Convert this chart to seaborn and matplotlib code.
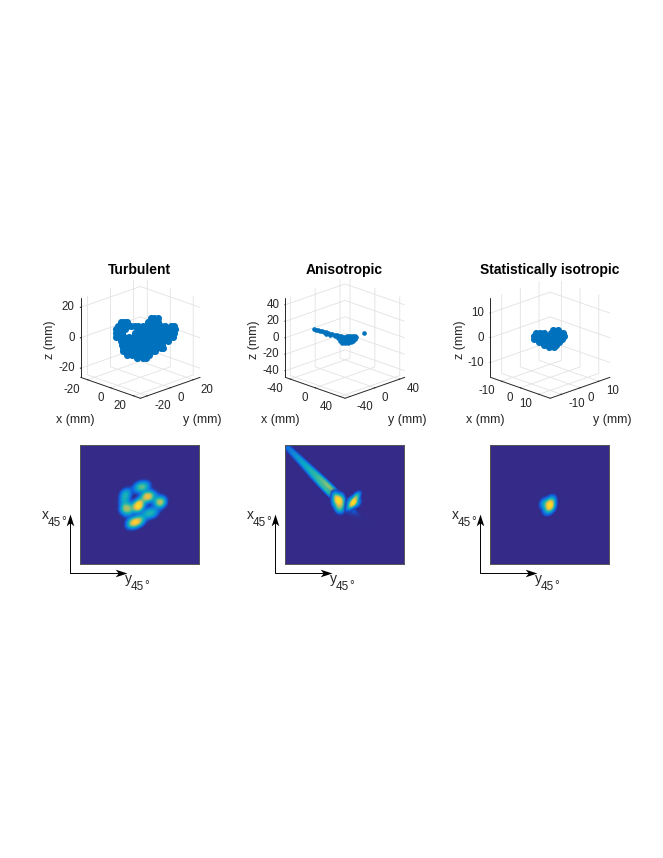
import numpy as np
import seaborn as sns
import matplotlib.pyplot as plt
from matplotlib.colors import LinearSegmentedColormap, to_rgb
from mpl_toolkits.mplot3d import Axes3D, proj3d

titles = ['Turbulent', 'Anisotropic', 'Statistically isotropic']
limits = [26, 48, 16]
ticks_xy = [[-20, 0, 20], [-40, 0, 40], [-10, 0, 10]]
ticks_z = [[-20, 0, 20], [-40, -20, 0, 20, 40], [-10, 0, 10]]

# nuvem 3D, valores (mm)
turb_x = [4.5, 6, 7.5,
          -8.5, -7, -5.8, 3.5, 5.5, 7.5,
          -9.8, -8, -6, -4, -2.5, -1, 1, 3, 5, 7, 9, 10.5, 13.3, 14.5,
          -10.5, -9, -7.6, -6.6, -1.2, 0, 2, 4, 5.6, 8.6, 10, 12, 14, 15,
          -10.5, -9, -7.8, -2.2, -1, 1, 3, 5, 7, 9, 11, 13, 14.8,
          -10.5, -9, -7, -5, -3, -1, 1, 3, 5, 7, 9, 11, 13, 14,
          -8.6, -6, -4, -2, 0, 2, 4, 6, 8, 10, 12,
          -8, -5.5, -3.5, -1.5, 0.5, 2.5, 4.5, 6, 8, 9.6,
          -7.6, -5, -3, -1, 1, 3, 5, 7, 9, 10,
          -7.4, -5, -3, -1, 1, 3, 5, 6.5,
          -6, -3.5, -1.5, 0.5, 2.5, 3.8,
          -1.5, 1, 2.6]
turb_z = [13, 13, 13,
          10.5, 10.5, 10.5, 10.5, 10.5, 10.5,
          8, 8, 8, 8, 8, 8, 8, 8, 8, 8, 8, 8, 8, 8,
          5.5, 5.5, 5.5, 5.5, 5.5, 5.5, 5.5, 5.5, 5.5, 5.5, 5.5, 5.5, 5.5, 5.5,
          3, 3, 3, 3, 3, 3, 3, 3, 3, 3, 3, 3, 3,
          0.5, 0.5, 0.5, 0.5, 0.5, 0.5, 0.5, 0.5, 0.5, 0.5, 0.5, 0.5, 0.5, 0.5,
          -2, -2, -2, -2, -2, -2, -2, -2, -2, -2, -2,
          -4.5, -4.5, -4.5, -4.5, -4.5, -4.5, -4.5, -4.5, -4.5, -4.5,
          -7, -7, -7, -7, -7, -7, -7, -7, -7, -7,
          -9, -9, -9, -9, -9, -9, -9, -9,
          -11.5, -11.5, -11.5, -11.5, -11.5, -11.5,
          -13, -13, -13]
aniso_x = [-24.7, -23.1, -21.5, -19.8, -18.2, -16.6, -14.9, -13.3, -11.7, -10.1, -8.4, -6.8,
           -14.9, -11.7, -8.4, -5.2, -3.5, -1.9, -0.3, 1.4, 3, 4.6, 6.3, 7.9, 9, 8.4, 6.8,
           4.6, 2.4, -0.3, -2.4, -4.1, -5.7, -3.5, -1.4, 0.8, 3, 5.2, 6.8, -1.4, 0.8, 3, 14.9]
aniso_z = [10.2, 9.8, 9.3, 8.5, 8.1, 7.3, 6.5, 5.7, 4.9, 4.1, 3.3, 2.8,
           4.9, 3.3, 1.6, 2, 1.6, 1.2, 1.2, 1.6, 1.6, 2, 2, 1.6, 0.4, -1.6, -3.3,
           -4.9, -6.5, -6.9, -6.1, -3.7, -0.8, -1.2, -2, -2, -1.6, -0.8, -0.4, -4.5, -4.5, -4.1, 6.1]
iso_x = [0.7, 2,
         -3.9, -2.8, -1.6, 0.2, 1.4, 2.4, 3.3,
         -4.4, -3.2, -2, -0.8, 0.4, 1.6, 2.8, 3.6,
         -4.3, -3.1, -1.9, -0.7, 0.5, 1.7, 2.9, 3.1,
         -3, -1.8, -0.6, 0.6, 1.8, 2.4,
         -1.6, -0.4, 0.8, 1.5,
         -0.3, 0.9]
iso_z = [3.1, 3.1,
         2, 2, 2, 2, 2, 2, 2,
         0.7, 0.7, 0.7, 0.7, 0.7, 0.7, 0.7, 0.7,
         -0.4, -0.4, -0.4, -0.4, -0.4, -0.4, -0.4, -0.4,
         -1.8, -1.8, -1.8, -1.8, -1.8, -1.8,
         -3.1, -3.1, -3.1, -3.1,
         -3.9, -3.9]
cloud_x = [turb_x, aniso_x, iso_x]
cloud_z = [turb_z, aniso_z, iso_z]

# manchas do mapa inferior: y45, x45, intensidade
turb_u = [2.3, -2, 6.3, 10, 6, -1.5, 0, 21.3, 17.3, -14.3, -15, -14.3, -11, -5.3, -1, -9, 1.5, 11, 6, 15, -7.7, -11, 14]
turb_v = [17.7, 17, 18, 8, 8, -3, 1, 2, 4.3, 10, 4, -3.3, -7.3, -18, -16.5, -19, -15.7, -8.5, -9.5, -7.5, -2.3, 13, 9]
turb_w = [0.7, 0.5, 0.5, 1, 1, 1.2, 1.2, 1.3, 0.5, 0.7, 0.6, 1.1, 0.6, 1.1, 0.8, 0.6, 0.4, 0.6, 0.5, 0.4, 0.5, 0.2, 0.2]
tail_u = [-56, -50.5, -46.5, -40.2, -36.8, -30, -27, -19.8, -18.5, -11, -15, -8]
tail_v = [56, 51.5, 45.5, 41.8, 35.2, 32, 25, 22.2, 15.5, 15, 11, 10]
tail_w = [0.15, 0.2, 0.22, 0.28, 0.3, 0.35, 0.4, 0.5, 0.55, 0.7, 0.7, 0.8]
base_u = [-6, -9, -3, -10, -5, -2, -7, -2]
base_v = [4, 8, 7, 2, -3, -3, -4, 2]
base_w = [1.3, 0.7, 0.5, 0.5, 0.6, 0.3, 0.3, 0.5]
lobe_u = [5, 9, 12, 13, 5.5]
lobe_v = [-2, 2, 8, 1, 4]
lobe_w = [0.5, 1.5, 0.8, 0.4, 0.4]
iso_u = [0, 2.3, -5.3, -2, 1.7]
iso_v = [0, 4.3, 1, -5.7, -2.3]
iso_w = [1.2, 0.7, 0.7, 0.6, 0.8]
map_u = [[turb_u], [tail_u, base_u, lobe_u], [iso_u]]
map_v = [[turb_v], [tail_v, base_v, lobe_v], [iso_v]]
map_w = [[turb_w], [tail_w, base_w, lobe_w], [iso_w]]
map_bw = [[0.32], [0.8, 0.8, 0.8], [1.0]]

parula = ['#352a87', '#0f5cdd', '#1481d6', '#06a4ca', '#2eb7a4', '#87bf77', '#d1bb59', '#fec832', '#f5e020']
# o inicio transparente deixa uma camada somar com a de baixo
stops = [to_rgb(c) + (min(1, 0.25 + k * 0.5),) for k, c in enumerate(parula)]
stops[0] = to_rgb(parula[0]) + (0,)
cmap = LinearSegmentedColormap.from_list('parula', stops)
cmap_tail = LinearSegmentedColormap.from_list('tail', stops[:6])
map_cmaps = [[cmap], [cmap_tail, cmap, cmap], [cmap]]

sns.set_style('white')
plt.rcParams['font.family'] = ['Liberation Sans', 'DejaVu Sans']
plt.rcParams['axes.unicode_minus'] = False

W, H = 663, 858
fig = plt.figure(figsize=(W / 100, H / 100), dpi=100)
centros_3d = [137.7, 342.3, 547.5]
esquerda_mapa = [80, 285, 490]
origem_seta = [70, 275, 480]
text_color = '#262626'
axes3d = []


def px_rect(x0, y0, w, h):
    return [x0 / W, 1 - (y0 + h) / H, w / W, h / H]


for i in range(3):
    # parte de cima
    ax = fig.add_axes(px_rect(centros_3d[i] - 100, 340.5 - 100, 200, 200), projection='3d', proj_type='ortho')
    ax.patch.set_alpha(0)
    ax.view_init(elev=20.5, azim=-45)
    ax.set_box_aspect((1, 1, 1), zoom=0.71)
    lim = limits[i]
    ax.scatter(cloud_x[i], cloud_x[i], cloud_z[i], s=[26, 11, 26][i], color='#0072bd', linewidths=0, depthshade=False)
    ax.set_xlim(-lim, lim)
    ax.set_ylim(-lim, lim)
    ax.set_zlim(-lim, lim)
    ax.set_xticks(ticks_xy[i])
    ax.set_yticks(ticks_xy[i])
    ax.set_zticks(ticks_z[i])
    ax.set_xticklabels([])
    ax.set_yticklabels([])
    ax.set_zticklabels([])
    for axis in [ax.xaxis, ax.yaxis, ax.zaxis]:
        axis.set_pane_color((1, 1, 1, 0))
        axis.pane.set_edgecolor((1, 1, 1, 0))
        axis.line.set_color('#262626')
        axis.line.set_linewidth(0.7)
        axis._axinfo['grid'].update(color='#e2e2e2', linewidth=0.6)
        axis._axinfo['tick'].update(inward_factor=0.0, outward_factor=0.08)
    ax.zaxis._axinfo['juggled'] = (1, 2, 0)
    ax.tick_params(width=0.6, color='#262626')
    axes3d.append(ax)

    # parte de baixo
    ax2 = fig.add_axes(px_rect(esquerda_mapa[i], 445, 119, 119))
    ax2.set_facecolor(parula[0])
    for u, v, w, bw, cm in zip(map_u[i], map_v[i], map_w[i], map_bw[i], map_cmaps[i]):
        sns.kdeplot(x=u, y=v, weights=w, fill=True, levels=80, thresh=0.002,
                    cmap=cm, bw_method=bw, gridsize=160, cut=4, ax=ax2)
    ax2.set_xlim(-59.5, 59.5)
    ax2.set_ylim(-59.5, 59.5)
    ax2.set_xticks([])
    ax2.set_yticks([])
    ax2.set_xlabel('')
    ax2.set_ylabel('')
    for s in ax2.spines.values():
        s.set_color('#555555')
        s.set_linewidth(0.7)

# camada em pixels para textos e setas
top = fig.add_axes([0, 0, 1, 1])
top.set_xlim(0, W)
top.set_ylim(H, 0)
top.axis('off')
fig.canvas.draw()


def tick_label(ax, x, y, z, texto, dx, dy, ha):
    # rotulo ao lado do ponto projetado do eixo
    xs, ys, _ = proj3d.proj_transform(x, y, z, ax.get_proj())
    px, py = ax.transData.transform((xs, ys))
    top.text(px + dx, H - py + dy, texto, ha=ha, va='center', fontsize=8.3, color=text_color)


seta_cima = [(0, 1), (-0.55, -0.7), (0, -0.25), (0.55, -0.7)]
seta_dir = [(1, 0), (-0.7, 0.55), (-0.25, 0), (-0.7, -0.55)]
for i in range(3):
    c = centros_3d[i] + 2
    lim = limits[i]
    for t in ticks_xy[i]:
        tick_label(axes3d[i], t, -lim, -lim, str(t), -7, 10, 'right')
        tick_label(axes3d[i], lim, t, -lim, str(t), 7, 10, 'left')
    for t in ticks_z[i]:
        tick_label(axes3d[i], -lim, -lim, t, str(t), -6, 0, 'right')
    top.text(c, 270, titles[i], ha='center', va='center', fontsize=10, fontweight='bold', color='k')
    top.text(c - 64.5, 420, 'x (mm)', ha='center', va='center', fontsize=9, color=text_color)
    top.text(c + 63, 420, 'y (mm)', ha='center', va='center', fontsize=9, color=text_color)
    top.text(c - 90, 340, 'z (mm)', ha='center', va='center', rotation=90, fontsize=9, color=text_color)
    o = origem_seta[i]
    top.plot([o, o, o + 50], [519, 572.5, 572.5], color='k', lw=0.7)
    top.plot([o], [521], marker=seta_cima, ms=10, color='k', mew=0)
    top.plot([o + 50], [572.5], marker=seta_dir, ms=10, color='k', mew=0)
    top.text(o - 28, 519, 'x', ha='left', va='baseline', fontsize=10, color=text_color)
    top.text(o - 22, 526, '45', ha='left', va='baseline', fontsize=8.5, color=text_color)
    top.text(o - 9, 525, '\u00b0', ha='left', va='baseline', fontsize=8.5, color=text_color)
    top.text(o + 55, 583, 'y', ha='left', va='baseline', fontsize=10, color=text_color)
    top.text(o + 61, 590, '45', ha='left', va='baseline', fontsize=8.5, color=text_color)
    top.text(o + 74, 589, '\u00b0', ha='left', va='baseline', fontsize=8.5, color=text_color)

fig.savefig('out.png', dpi=100)
